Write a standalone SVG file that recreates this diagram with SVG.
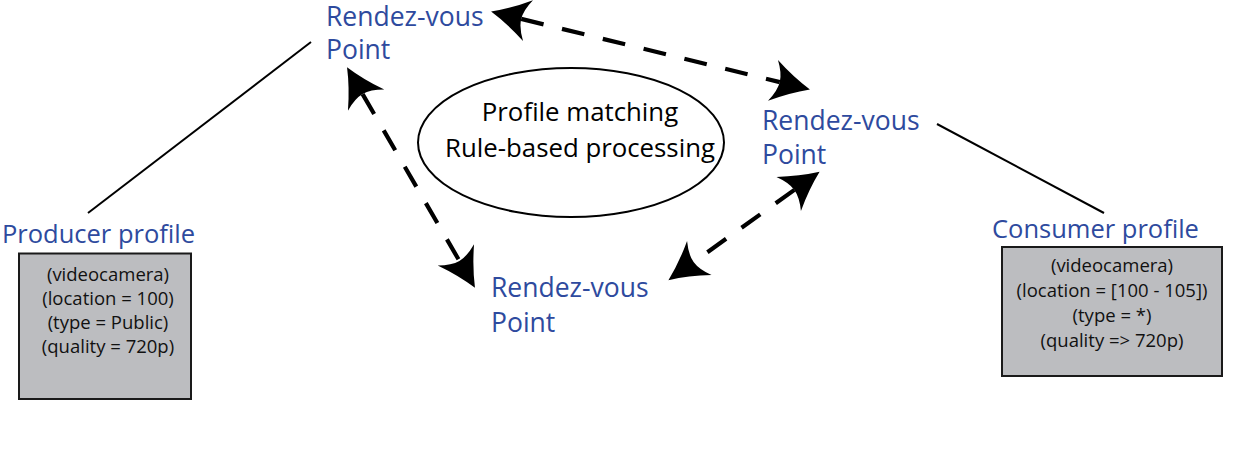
<svg xmlns="http://www.w3.org/2000/svg" width="1253" height="455" viewBox="0 0 1253 455">
<style>
  .rvp { font-family: "Open Sans", "Liberation Sans", sans-serif; font-size: 26.5px; fill: #2e4a9e; }
  .lbl { font-family: "Open Sans", "Liberation Sans", sans-serif; font-size: 25.5px; fill: #2e4a9e; }
  .ell { font-family: "Open Sans", "Liberation Sans", sans-serif; font-size: 25.8px; fill: #000; text-anchor: middle; }
  .box { font-family: "Open Sans", "Liberation Sans", sans-serif; font-size: 18.5px; fill: #111; text-anchor: middle; }
  .profile { fill: #bcbdc0; stroke: #1a1a1a; stroke-width: 2; }
  .thin { stroke: #000; stroke-width: 2; fill: none; }
  .dash { stroke: #000; stroke-width: 4.2; fill: none; stroke-dasharray: 23 19; marker-start: url(#head); marker-end: url(#head); }
</style>
<defs>
  <marker id="head" markerUnits="userSpaceOnUse" markerWidth="44" markerHeight="46" viewBox="0 -23 44 46" refX="7" refY="0" orient="auto-start-reverse" overflow="visible">
    <path d="M38,0 Q19,-8 0,-21 Q7,-9 7,0 Q7,9 0,21 Q19,8 38,0 Z" fill="#000"/>
  </marker>
</defs>

<g id="connectors">
  <line class="thin" x1="88" y1="213" x2="311" y2="42"/>
  <line class="thin" x1="937" y1="124" x2="1104" y2="213"/>
  <line class="dash" x1="521.2" y1="18.9" x2="779.8" y2="82.1"/>
  <line class="dash" x1="362.6" y1="94.1" x2="459.4" y2="260.9"/>
  <line class="dash" x1="794.4" y1="189.9" x2="693.6" y2="262.1"/>
</g>

<g id="rvp-top">
  <text class="rvp" x="326" y="26">Rendez-vous</text>
  <text class="rvp" x="326" y="59">Point</text>
</g>
<g id="rvp-right">
  <text class="rvp" x="762" y="130">Rendez-vous</text>
  <text class="rvp" x="762" y="164">Point</text>
</g>
<g id="rvp-bottom">
  <text class="rvp" x="491" y="297">Rendez-vous</text>
  <text class="rvp" x="491" y="332">Point</text>
</g>

<g id="matching">
  <ellipse cx="571" cy="142.5" rx="153" ry="74.5" fill="none" stroke="#000" stroke-width="2"/>
  <text class="ell" x="580" y="121">Profile matching</text>
  <text class="ell" x="580" y="157">Rule-based processing</text>
</g>

<g id="producer">
  <text class="lbl" x="2" y="243">Producer profile</text>
  <rect class="profile" x="19" y="253.5" width="172" height="145.5"/>
  <text class="box" x="108" y="281">(videocamera)</text>
  <text class="box" x="108" y="305">(location = 100)</text>
  <text class="box" x="108" y="329">(type = Public)</text>
  <text class="box" x="108" y="353">(quality = 720p)</text>
</g>

<g id="consumer">
  <text class="lbl" x="992" y="238">Consumer profile</text>
  <rect class="profile" x="1002" y="247" width="220" height="129"/>
  <text class="box" x="1112" y="272">(videocamera)</text>
  <text class="box" x="1112" y="297">(location = [100 - 105])</text>
  <text class="box" x="1112" y="322">(type = *)</text>
  <text class="box" x="1112" y="347">(quality =&gt; 720p)</text>
</g>
</svg>
